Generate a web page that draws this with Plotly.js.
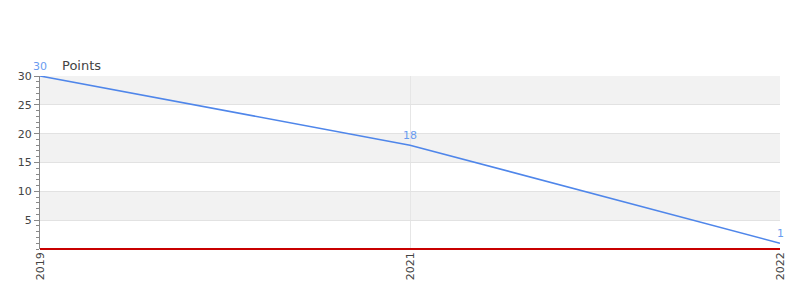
<!DOCTYPE html>
<html>
<head>
<meta charset="utf-8">
<script src="https://cdn.plot.ly/plotly-3.0.1.min.js"></script>
<style>html,body{margin:0;padding:0;background:#fff;}#chart{width:800px;height:300px;}</style>
</head>
<body>
<div id="chart"></div>
<script>
const years = ['2019', '2021', '2022'];
const points = [30, 18, 1];
const yTicks = [5, 10, 15, 20, 25, 30];
const bandStarts = [5, 15, 25];

const lineColor = '#4f86ea';
const shapes = bandStarts.map(b => ({
  type: 'rect', xref: 'paper', yref: 'y', x0: 0, x1: 1, y0: b, y1: b + 5,
  fillcolor: '#f2f2f2', line: {width: 0}, layer: 'below'
}));

const trace = {
  x: years, y: points, type: 'scatter', mode: 'lines',
  line: {color: lineColor, width: 1.6}, cliponaxis: false, hoverinfo: 'none'
};

// category axis: annotation x uses the category's serial number
const labels = years.map((yr, i) => ({
  x: i, y: points[i], xref: 'x', yref: 'y', text: String(points[i]),
  showarrow: false, yanchor: 'bottom', yshift: 1,
  font: {family: 'DejaVu Sans', size: 11, color: '#6a9cf0'}
}));

const layout = {
  width: 800, height: 300,
  margin: {l: 40, r: 20, t: 76, b: 51},
  paper_bgcolor: '#fff', plot_bgcolor: '#fff',
  font: {family: 'DejaVu Sans', size: 11, color: '#444'},
  showlegend: false,
  shapes: shapes,
  xaxis: {
    type: 'category', range: [0, 2], tickangle: -90,
    showgrid: true, gridcolor: '#e6e6e6', gridwidth: 1,
    zeroline: false, showline: false, ticks: '',
    tickfont: {family: 'DejaVu Sans', size: 11, color: '#444'}
  },
  yaxis: {
    range: [0, 30], tickvals: yTicks, ticktext: yTicks.map(String),
    showgrid: true, gridcolor: '#e2e2e2', gridwidth: 1,
    zeroline: true, zerolinecolor: '#c80000', zerolinewidth: 2,
    showline: true, linecolor: '#888', linewidth: 1,
    ticks: 'outside', ticklen: 5, tickcolor: '#888',
    minor: {dtick: 1, ticks: 'outside', ticklen: 3, tickcolor: '#888', showgrid: false},
    tickfont: {family: 'DejaVu Sans', size: 11, color: '#444'}
  },
  annotations: labels.concat([{
    text: 'Points', xref: 'paper', yref: 'paper', x: 0, y: 1, xshift: 20, yshift: 1,
    xanchor: 'left', yanchor: 'bottom', showarrow: false,
    font: {family: 'DejaVu Sans', size: 13, color: '#444'}
  }])
};

Plotly.newPlot('chart', [trace], layout, {displayModeBar: false, staticPlot: true});
</script>
</body>
</html>
